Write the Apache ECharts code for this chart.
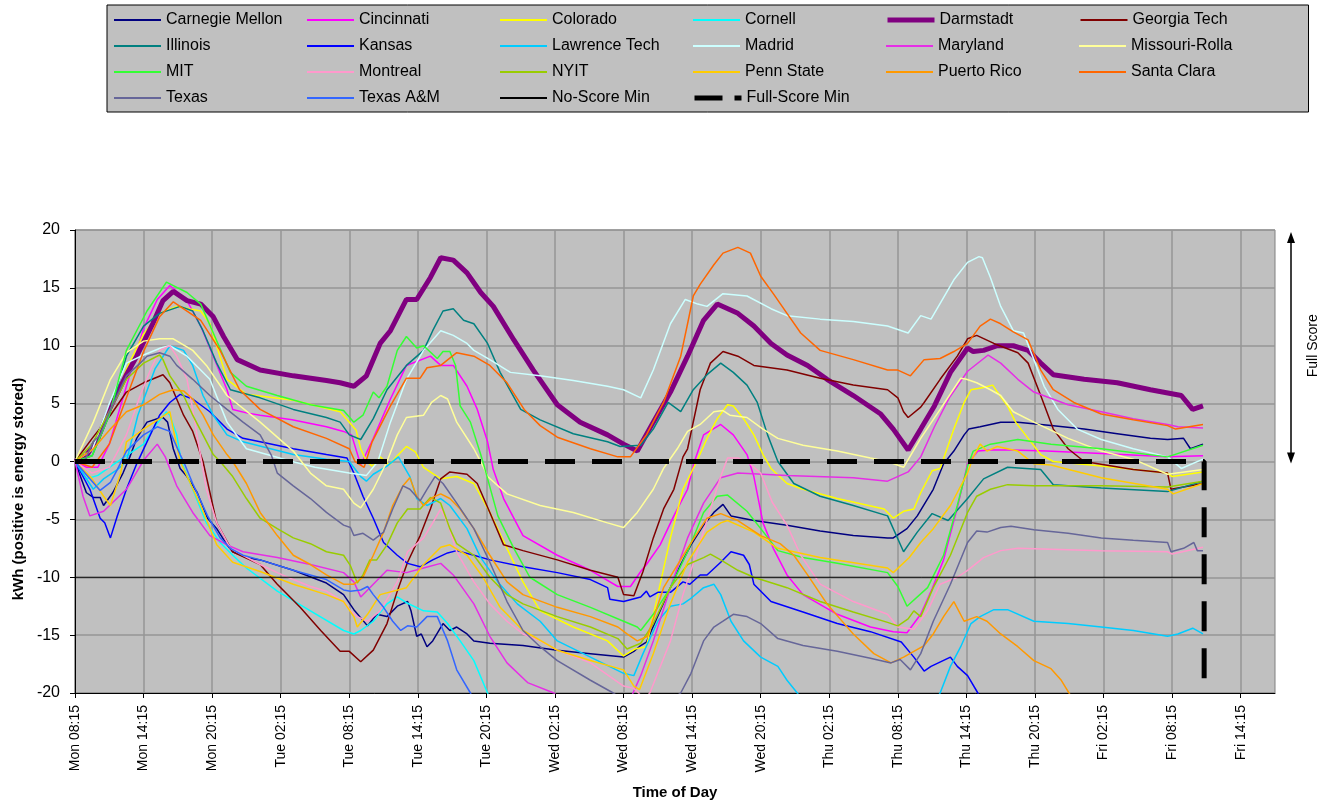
<!DOCTYPE html>
<html>
<head>
<meta charset="utf-8">
<script src="https://cdn.jsdelivr.net/npm/echarts@6/dist/echarts.min.js"></script>
<style>html,body{margin:0;padding:0;background:#fff;}#c{width:1335px;height:805px;}</style>
</head>
<body>
<div id="c"></div>
<script>
// x values are hours after Mon 08:15, y values are kWh
const tickLabels = ['Mon 08:15','Mon 14:15','Mon 20:15','Tue 02:15','Tue 08:15','Tue 14:15','Tue 20:15','Wed 02:15','Wed 08:15','Wed 14:15','Wed 20:15','Thu 02:15','Thu 08:15','Thu 14:15','Thu 20:15','Fri 02:15','Fri 08:15','Fri 14:15'];

const carnegieMellon = [[0,0],[1,-2.7],[1.6,-3.1],[2.2,-3.1],[2.5,-3.8],[3.3,-2.7],[4.2,-1.0],[4.8,0.4],[5.4,2.0],[6.3,3.4],[7.2,3.7],[7.7,3.8],[8.1,3.4],[8.6,1.1],[9.2,-0.6],[9.8,-1.3],[10.7,-2.7],[11.6,-4.9],[12.4,-5.8],[13.3,-7.2],[13.8,-7.8],[15,-8.3],[16.2,-8.5],[19.1,-9.4],[22,-10.5],[23.5,-11.5],[24.4,-12.8],[25.6,-14.2],[26.4,-13.2],[27.3,-13.4],[28.2,-12.5],[29.1,-12.1],[29.4,-12.9],[29.9,-15.1],[30.3,-14.9],[30.8,-16.0],[31.3,-15.5],[32.2,-14.0],[32.8,-14.6],[33.4,-14.3],[34.3,-14.9],[34.9,-15.5],[36.3,-15.7],[39.2,-15.9],[42.2,-16.3],[45.1,-16.6],[48,-16.9],[48.9,-16.4],[49.5,-15.9],[50,-15.6],[51.2,-12.9],[52.1,-10.9],[53,-8.9],[53.9,-7.2],[55,-5.5],[55.9,-4.4],[56.7,-3.7],[57.4,-4.7],[59.4,-5.1],[62.3,-5.5],[65.2,-6.0],[68.1,-6.4],[71.1,-6.6],[71.6,-6.6],[72.8,-5.8],[73.7,-4.7],[75.1,-2.4],[76,-0.2],[76.9,0.9],[77.8,2.3],[78.2,2.8],[79.2,3.0],[81,3.4],[82.5,3.4],[85.4,3.1],[88.3,2.8],[91.2,2.4],[94.1,2.0],[95.6,1.9],[97,2.0],[97.6,1.1],[98.7,1.5]];
const cincinnati = [[0,0],[1,-0.5],[2,-0.5],[3,1.5],[4.5,6.5],[6,11.5],[7.2,14],[8.3,15.2],[9.8,13.9],[11,11.7],[12.1,9.1],[13.3,6.2],[13.8,4.5],[15,4.2],[16.2,4.0],[19,3.6],[22,3.0],[23.5,2.6],[24.2,2.3],[25,-0.3],[26.1,2.0],[27.6,5.4],[29,8.3],[31.1,9.1],[32,8.3],[33.1,8.3],[34.3,6.5],[35.2,4.5],[36.1,1.7],[36.6,-0.7],[37.5,-3.2],[39.2,-6.4],[42.2,-8.1],[45.1,-9.4],[47.5,-10.8],[48.6,-10.8],[49.5,-9.5],[50,-8.9],[51.2,-7.2],[52.4,-4.7],[53.6,-2.4],[54.2,0],[55,2.3],[56.5,3.2],[57.6,2.3],[58.8,0.6],[59.4,-1.3],[60.2,-5.3],[61.1,-7.5],[62.3,-9.8],[63.7,-11.5],[66.7,-13.2],[69.6,-14.3],[71.6,-14.7],[72.8,-14.8],[74,-13.2],[75,-11],[76,-8.5],[77.2,-4],[78.1,-0.2],[79,0.9],[80.1,1.0],[82,1.0],[85,0.9],[89.8,0.7],[95.6,0.4],[98.7,0.5]];
const colorado = [[0,0],[1.5,1],[3,4],[4.5,8],[6,11],[7.4,12.8],[8.9,13.4],[11,13.0],[11.8,11.9],[13.3,7.1],[15,5.8],[19.1,5.3],[23.2,4.3],[24,3.4],[24.6,2.7],[25,1.1],[25.5,0],[26,-0.4],[26.7,0.4],[27.5,-0.3],[28.2,0.5],[29,1.3],[29.8,0.8],[30.5,-0.5],[32,-1.5],[33.4,-1.3],[34.9,-1.9],[36.3,-4.4],[37.8,-7.5],[39.2,-10.4],[40.7,-12.9],[43.6,-14.3],[46.6,-15.5],[48,-16.8],[49,-16.2],[50,-16],[51,-11.5],[52.1,-6.6],[53.2,-2.4],[54.4,0],[55.3,2.0],[56.2,3.7],[57.1,4.9],[57.6,4.8],[58.5,3.7],[59.4,2.3],[60.2,0.6],[60.9,-0.6],[62.3,-1.9],[63.7,-2.4],[66.7,-3.2],[70.8,-4.1],[71.6,-4.9],[72.5,-4.3],[73.4,-4.1],[74,-2.7],[75,-0.8],[75.7,-0.6],[76.9,2.8],[77.8,5.1],[78.4,6.2],[79.5,6.4],[80.3,6.6],[80.7,6.0],[81.6,4.8],[82.3,3.4],[83.4,2.0],[84.5,0.6],[85.6,0],[90,-0.4],[95.6,-1.0],[96,-1.3],[98.7,-0.9]];
const cornell = [[0,0],[1,-1.5],[2,-1.2],[3,-0.5],[4.5,0.5],[6,1.5],[6.8,2.8],[8,4.3],[8.3,4.0],[8.9,2.3],[9.3,0],[10.3,-2.4],[11.5,-5.3],[12.7,-7.0],[13.8,-8.1],[15,-9.2],[17.7,-11.2],[20.6,-12.9],[23.5,-14.6],[24.4,-14.9],[25,-14.6],[26.1,-13.8],[27.3,-12.3],[28.2,-11.7],[29,-12.2],[30.5,-12.9],[31.7,-13.0],[32.6,-14.0],[33.7,-15.5],[34.9,-17.2],[36.1,-20],[37,-22]];
const darmstadt = [[0,0],[1,0.5],[2,2],[3,4.5],[4.5,7.5],[5.4,9.1],[6.8,11.9],[7.7,13.9],[8.6,14.7],[9.8,13.9],[11,13.6],[12.1,12.5],[13,10.8],[14.2,8.8],[16.2,7.9],[19.1,7.4],[22,7.0],[23.2,6.8],[24.4,6.5],[25.5,7.4],[26.7,10.2],[27.6,11.3],[29,14.0],[29.9,14.0],[31.1,15.9],[32,17.6],[33.1,17.4],[34.3,16.3],[35.5,14.6],[36.6,13.4],[38.4,10.5],[40.1,7.9],[42.2,4.9],[44.2,3.4],[46.6,2.3],[48,1.5],[49.2,0.9],[50.6,3.4],[52.1,6.0],[53.6,9.1],[55,12.2],[56.2,13.6],[58,12.8],[59.4,11.7],[60.9,10.2],[62.3,9.2],[64.1,8.3],[65.8,7.1],[68.1,5.7],[70.5,4.1],[71.6,2.8],[72.9,1.0],[74,2.8],[75.2,4.8],[76.6,7.7],[78.1,9.8],[78.6,9.5],[79.5,9.6],[80.7,10.0],[82.1,10.0],[83.4,9.6],[84.5,8.5],[85.6,7.5],[88.3,7.1],[91.2,6.8],[94.1,6.2],[96.8,5.7],[97.8,4.5],[98.7,4.8]];
const georgiaTech = [[0,0],[1.5,2],[3.1,4.0],[4.5,6.0],[6,6.8],[7.7,7.5],[8.3,6.8],[9.5,4.0],[10.3,2.6],[11.2,0],[12.4,-5.3],[13.8,-7.8],[16.2,-8.9],[17.7,-10.6],[19.7,-12.6],[21.5,-14.6],[23.2,-16.4],[24,-16.4],[25,-17.3],[26.1,-16.3],[27.3,-14.0],[28.2,-11.2],[29.1,-8.7],[30.2,-6.4],[31.1,-4.1],[32,-1.5],[32.8,-0.9],[34.3,-1.1],[35.2,-1.9],[36.3,-4.4],[37.5,-7.2],[39.2,-7.7],[42.2,-8.5],[45.1,-9.4],[47.5,-10.0],[48,-11.5],[48.9,-11.6],[49.7,-9.5],[50.6,-6.6],[51.5,-4.1],[52.4,-2.4],[53.2,0.4],[53.6,1.1],[54.7,6.2],[55.6,8.5],[56.7,9.5],[58,9.1],[59.4,8.3],[62.3,7.9],[65.2,7.2],[68.1,6.6],[71.1,6.2],[72,5.5],[72.5,4.3],[72.9,3.8],[74,4.7],[74.3,5.1],[75.7,7.1],[77.2,9.1],[78.1,10.6],[78.9,10.9],[80.4,10.2],[82.5,9.4],[83.4,8.5],[84.5,5.7],[85.6,2.8],[86.9,1.1],[88.3,0],[92.6,-0.7],[95.6,-1.0],[95.9,-2.4],[98.7,-1.9]];
const illinois = [[0,0],[1.5,0.5],[3,4],[4.5,9.1],[6,11.7],[7.4,12.8],[9.2,13.4],[10.3,13.0],[11.2,11.3],[12.4,8.5],[13.6,6.2],[16.2,5.5],[19.1,4.5],[22,3.8],[23.2,3.4],[24,2.3],[25,1.9],[26.1,3.7],[27.3,6.2],[29,8.3],[30.5,9.6],[31.3,11.3],[32.2,13.0],[33.1,13.2],[34,12.2],[34.9,11.9],[36.1,10.2],[37.2,7.7],[39,4.5],[40.7,3.6],[43.6,2.4],[46.6,1.7],[47.7,1.3],[49.5,1.4],[50.6,2.8],[51.9,5.1],[53,4.3],[54.1,6.2],[55.3,7.5],[56.5,8.5],[57.6,7.7],[58.8,6.6],[59.7,5.1],[60.6,2.3],[61.5,0],[62.9,-1.9],[65.2,-3.0],[68.1,-3.8],[71.1,-4.7],[72.5,-7.8],[73.7,-6.1],[75,-4.5],[76.4,-5.1],[78.1,-3.2],[79.5,-1.5],[81.6,-0.5],[84.5,-0.7],[85.6,-2.0],[89.8,-2.3],[95.6,-2.6],[98.7,-1.7]];
const kansas = [[0,0],[1.3,-2.4],[2.2,-4.9],[2.6,-5.3],[3.1,-6.6],[3.7,-4.7],[4.5,-2.4],[5.4,-0.2],[6.3,1.7],[7.4,4.0],[8.3,5.1],[9.2,5.8],[10.3,5.4],[11.8,4.3],[13.3,2.8],[14.7,2.0],[16.2,1.7],[19.1,1.1],[22,0.6],[23.8,0.3],[24.4,-1.0],[25.2,-3.0],[26.1,-4.9],[27,-7.0],[28.2,-8.1],[29.1,-8.8],[30.2,-9.1],[31.3,-8.5],[32.6,-7.9],[33.4,-7.7],[34.9,-8.1],[36.3,-8.5],[39.2,-9.1],[42.2,-9.6],[45.1,-10.2],[46.6,-10.9],[46.8,-11.9],[48,-12.1],[49.5,-11.7],[50,-11.2],[50.3,-11.7],[51,-11.3],[52.1,-11.3],[53.2,-10.4],[53.8,-10.6],[54.7,-9.8],[55.3,-9.8],[56.5,-8.7],[57.4,-7.8],[58.5,-8.1],[59,-8.9],[59.4,-10.6],[60.9,-12.1],[63.7,-13.0],[66.7,-14.0],[69.6,-14.7],[72.3,-15.6],[73.4,-16.9],[74.3,-18.1],[74.9,-17.7],[76.6,-16.9],[77.2,-17.7],[78.1,-18.5],[79,-20],[80,-22]];
const lawrenceTech = [[0,0],[1.6,-2.4],[2.5,-1.5],[3.7,-0.7],[4.5,0],[5.5,4],[7,8],[8.3,10.0],[9.5,9.6],[10.3,8.3],[11.2,5.7],[12.1,4.0],[13.3,2.3],[14.7,1.7],[19.1,0.6],[22,0.2],[24,0],[25,-1.3],[25.5,-1.7],[26.1,-1.1],[27.3,-0.4],[28.3,0.4],[29.3,-1.3],[29.9,-3.2],[30.8,-3.8],[32,-3.2],[32.8,-3.8],[34.3,-5.8],[35.5,-8.3],[37,-10.4],[38.7,-12.3],[40.7,-13.8],[42.2,-15.5],[45.1,-16.9],[48,-18.3],[48.9,-18.5],[49.7,-16.6],[51,-13.8],[52.1,-12.5],[53.2,-12.3],[53.8,-11.9],[55,-10.9],[55.9,-10.6],[56.5,-11.5],[57.4,-13.8],[58.5,-15.5],[60,-16.9],[61.5,-17.7],[62.3,-18.9],[63.2,-20],[66,-24],[73,-24],[75.7,-20],[76.6,-17.7],[77.5,-16.0],[78.4,-14.0],[79.2,-13.4],[80.4,-12.8],[81.6,-12.8],[83.9,-13.8],[86.9,-14.0],[89.8,-14.3],[92.6,-14.6],[95.6,-15.1],[96.5,-14.9],[97.8,-14.4],[98.7,-14.9]];
const madrid = [[0,0],[1.5,1],[3,5],[4.5,8.5],[6,9.2],[7.5,9.8],[8.3,10.0],[9.8,9.1],[11.8,7.1],[13.3,3.4],[15,1.1],[19,0],[21,-0.5],[24,-1.0],[25.5,-1.2],[26.5,0],[27.6,3.4],[29,7.1],[30.5,9.6],[32,11.3],[33.1,10.9],[34.3,10.2],[34.9,9.6],[36.3,8.8],[38.1,7.7],[40.7,7.4],[43.6,7.0],[46.6,6.5],[48,6.2],[49.5,5.5],[50.6,7.9],[52.1,11.9],[53.4,14.0],[54.5,13.6],[55.3,13.4],[56.7,14.5],[58.8,14.3],[60.9,13.2],[62.3,12.6],[65.2,12.3],[68.1,12.1],[71.1,11.7],[72.9,11.1],[74,12.6],[74.9,12.3],[76.9,15.7],[78.1,17.2],[79.1,17.7],[79.4,17.6],[80.1,15.9],[81,13.4],[82.1,11.3],[83,11.1],[83.9,8.8],[84.8,6.5],[86,4.5],[87.7,2.8],[89.8,1.9],[92.6,1.1],[95.6,0.4],[96.8,-0.6],[98.7,0.2]];
const maryland = [[0,0],[0.7,-3],[1.3,-4.7],[2.5,-4.3],[4.5,-2.4],[6,0.1],[7.2,1.5],[7.9,0.4],[8.9,-2.1],[10.3,-4.4],[11.8,-6.4],[13.3,-7.2],[14.7,-7.8],[17.7,-8.3],[20.6,-8.9],[23.5,-9.6],[24.4,-10.4],[25,-11.7],[26.1,-10.6],[27.3,-9.4],[29,-9.6],[30.5,-9.2],[32,-8.8],[33.1,-9.8],[34.9,-12.3],[36.3,-15.1],[37.8,-17.4],[39.6,-19.1],[41.9,-20],[45,-22.5],[48.6,-20.5],[49.5,-18.5],[50.6,-15.5],[52.1,-10.9],[53.6,-6.6],[55,-3.6],[56.5,-1.4],[58,-1.0],[62.3,-1.2],[68.1,-1.4],[71.1,-1.7],[72.9,-0.9],[74,0.4],[75.2,3],[76.5,5.5],[78.1,7.8],[79.9,9.2],[81,8.5],[82.5,7.1],[83.9,6.0],[86.9,4.9],[89.8,4.3],[92.6,3.7],[95.6,3.2],[96.5,3.0],[98.7,2.9]];
const missouriRolla = [[0,0],[1.6,3.4],[3.1,7.1],[4.5,9.4],[6,10.4],[7.4,10.6],[8.6,10.6],[10.3,9.6],[11.5,8.3],[13.3,5.7],[16.2,3.4],[19.1,0.9],[20.6,-1.0],[22,-2.1],[23.5,-2.4],[24.4,-3.6],[25,-4.0],[26.1,-2.4],[27.3,0],[28.2,2.3],[29,3.8],[30.5,4.0],[31.2,5.1],[32,5.7],[32.6,5.4],[33.4,3.4],[34.9,1.1],[35.8,-0.6],[36.1,-1.3],[37.8,-2.8],[40.7,-3.8],[43.6,-4.4],[46.6,-5.3],[48,-5.7],[49.2,-4.4],[50.6,-2.4],[51.5,-0.6],[52.7,1.1],[53.6,2.6],[54.7,3.2],[55.9,4.3],[56.7,4.4],[57.3,4.0],[58.8,3.8],[60.2,2.8],[61.5,2.0],[63.7,1.4],[66.7,0.9],[69.6,0.3],[71.1,0],[72.5,-0.5],[74,2.0],[75.7,4.5],[77.5,7.2],[78,7.1],[78.9,6.8],[80.1,6.2],[81,5.7],[82.1,4.3],[83.9,3.4],[86.9,2.0],[89.8,0.9],[92.6,0.2],[95.6,-1.1],[98.7,-0.7]];
const mit = [[0,0],[1.5,0.5],[3,4],[4.5,9.6],[6.3,13.0],[8,15.5],[9.8,14.6],[11,13.6],[12.1,11.1],[13.6,7.7],[15,6.5],[17.7,5.7],[20.6,4.9],[23.5,4.4],[24.4,3.4],[25.2,4.0],[26.1,6.0],[26.6,5.5],[27.3,6.5],[28.2,9.6],[29,10.8],[29.9,9.8],[30.5,10.0],[31.7,8.9],[32.2,9.5],[32.8,9.5],[33.3,8.3],[33.7,4.8],[34.6,3.4],[35.5,0.6],[35.8,-0.4],[37,-4.7],[38.4,-7.5],[39.8,-10.0],[42.2,-11.5],[45.1,-12.6],[48,-13.8],[49.2,-14.3],[49.5,-14.6],[50.6,-13.2],[52.1,-10.9],[53.6,-7.8],[55,-4.4],[56.2,-3.0],[57.1,-2.9],[58.8,-4.3],[60,-5.8],[61.5,-7.7],[63.7,-8.3],[66.7,-8.8],[71.1,-9.6],[72,-10.8],[72.8,-12.5],[74.6,-10.9],[76,-8.1],[77.2,-3.8],[78.1,-0.4],[78.6,0.9],[80.1,1.5],[82.5,1.9],[85.4,1.5],[89.8,1.1],[95.6,0.4],[98.7,1.4]];
const montreal = [[0,0],[1.5,-1],[3,-0.5],[4.5,2.3],[5.7,5.7],[6.6,7.9],[7.4,9.6],[8.3,10.0],[8.9,9.1],[9.8,7.1],[10.3,4.5],[10.9,1],[11.5,-2.4],[12.4,-5.3],[13.6,-7.5],[14.7,-8.1],[16.2,-8.9],[17.7,-9.6],[19.1,-10.2],[20.6,-10.8],[22,-11.2],[23.5,-12.1],[24.1,-12.9],[24.7,-13.4],[25.6,-13.8],[26.7,-12.9],[28.2,-10.4],[29.1,-7.8],[30.5,-6.6],[31.3,-5.3],[32,-4.1],[32.6,-5.3],[33.4,-7.8],[34.9,-10.4],[36.3,-12.3],[37.8,-13.8],[39.2,-14.9],[40.7,-15.5],[42.2,-16.3],[45.1,-17.4],[48,-19.4],[48.9,-19.6],[49.8,-20.5],[50.3,-20],[52.1,-15.5],[53.2,-11.5],[54.7,-7.0],[55.6,-4.1],[56.5,-1.3],[57.1,0.3],[58,0.3],[58.8,0],[60,-1],[61,-3.5],[62.3,-5.5],[63.5,-8.1],[65.2,-10.6],[68.1,-12.1],[71.1,-13.2],[72,-14.3],[73.4,-14.5],[74.6,-12.9],[75.7,-10.6],[77.2,-10.0],[78.1,-9.4],[79.5,-8.3],[81,-7.7],[82.5,-7.5],[89.8,-7.7],[95.6,-7.8],[96,-8.0],[98.7,-7.4]];
const nyit = [[0,0],[1.5,1.5],[3.1,4.5],[4.5,7.1],[6,8.5],[7.4,9.2],[7.7,8.8],[8.3,7.4],[9.5,5.7],[10.3,4.0],[11.2,2.3],[12.1,0.6],[12.7,0],[13.8,-1.3],[15,-3.2],[16.2,-4.9],[17.7,-5.8],[19.1,-6.6],[20.6,-7.1],[22,-7.8],[23.5,-8.1],[24.1,-9.0],[24.7,-10.5],[25.2,-9.8],[25.8,-8.5],[26.4,-8.5],[27.3,-7.2],[28.2,-5.3],[29.1,-4.1],[30.2,-4.1],[31.1,-3.1],[32,-3.6],[32.8,-5.8],[33.4,-7.1],[34.9,-8.1],[36.3,-10.0],[37.8,-11.5],[39.2,-12.3],[42.2,-13.4],[45.1,-14.3],[47.5,-15.3],[48.3,-16.2],[49.5,-15.7],[50.6,-14.0],[52.1,-10.9],[53.6,-8.9],[55,-8.3],[55.6,-8.0],[56.5,-8.5],[58,-9.4],[59.4,-10.0],[62.3,-10.9],[65.2,-12.1],[68.1,-13.0],[71.1,-13.9],[72,-14.2],[72.9,-13.6],[73.4,-12.9],[74,-13.4],[75.1,-10.9],[76.6,-8.1],[78.1,-4.4],[78.9,-3.0],[80.1,-2.4],[81.6,-2.0],[83.9,-2.1],[89.8,-2.1],[95.6,-2.2],[98.7,-1.7]];
const pennState = [[0,0],[1.5,-1.5],[2.5,-3],[3.1,-3.8],[4,-1],[4.5,1.7],[6,2.8],[7.4,3.7],[8.3,4.3],[8.6,2.8],[9.2,0],[11,-3.8],[12.4,-7.2],[13.8,-8.7],[16.2,-9.5],[19.1,-10.6],[22,-11.5],[23.5,-12.1],[24.4,-13.4],[24.7,-14.3],[25.6,-13.2],[26.7,-11.5],[29,-10.9],[30.5,-8.9],[32,-7.4],[32.8,-7.2],[34.3,-8.1],[35.7,-10.0],[37.2,-12.6],[39.2,-14.6],[42.2,-16.3],[45.1,-17.2],[48,-18.0],[48.9,-19.4],[49.4,-19.7],[50.6,-16.6],[52.1,-12.3],[53.6,-8.7],[55.3,-6.1],[56.5,-5.3],[57.1,-5.1],[59.4,-6.1],[61.5,-7.5],[65.2,-8.3],[71.1,-9.2],[71.6,-9.6],[73,-8.3],[74,-7.0],[75.1,-5.8],[76.6,-3.8],[78.1,-1.0],[78.6,0.4],[79.2,1.5],[79.8,0.9],[80.7,1.3],[82.5,0.9],[83.9,-0.2],[85.4,-0.3],[89.8,-1.4],[95.6,-2.4],[96.1,-2.8],[98.7,-1.9]];
const puertoRico = [[0,0],[1.6,1.1],[3.1,2.8],[4.5,4.3],[6,4.9],[7.4,5.8],[8.6,6.2],[9.5,6.1],[10.3,5.4],[11.2,4.0],[12.1,2.3],[13.3,0.6],[13.8,0],[15,-1.9],[16.2,-4.4],[17.7,-6.4],[19.1,-8.1],[20.6,-8.9],[22,-9.8],[23.5,-10.6],[24.4,-10.6],[25.2,-10.0],[26.1,-8.1],[27,-6.1],[27.8,-3.8],[28.7,-2.1],[29.3,-1.4],[29.9,-3.0],[30.5,-3.8],[31.3,-3.1],[32,-2.8],[32.8,-3.2],[33.7,-4.1],[34.9,-5.8],[36.3,-8.1],[37.8,-10.4],[39.2,-11.5],[42.2,-12.6],[45.1,-13.4],[47.5,-14.3],[48.3,-14.9],[49.2,-15.5],[50.1,-15.1],[51.5,-10.9],[53.6,-7.5],[55.3,-4.9],[56.5,-4.5],[58,-5.1],[60,-6.4],[61.7,-7.1],[62.9,-8.1],[64.1,-9.8],[65.8,-12.3],[68.1,-14.9],[69.9,-16.6],[71.4,-17.4],[72.5,-16.9],[74.3,-15.9],[75.1,-14.9],[76,-13.4],[76.9,-12.1],[77.8,-13.8],[78.9,-13.4],[79.8,-13.8],[81,-14.9],[82.5,-16.0],[83.9,-17.2],[85.4,-17.9],[86.3,-18.9],[87.1,-20.2],[88,-21.5]];
const santaClara = [[0,0],[1.5,-0.5],[3,1.5],[4.5,5.5],[6,9.5],[7.4,12.5],[8.6,13.8],[11,12.2],[12.7,9.6],[14.4,6.2],[16.2,4.5],[19.1,3.0],[22,2.0],[24,1.1],[24.5,0],[25.3,-0.5],[26,1.7],[27.6,4.8],[29,7.2],[30.2,7.2],[30.8,8.1],[32,8.3],[33.4,9.4],[34.9,9.1],[36.3,8.3],[37.8,6.8],[39.3,4.5],[40.7,3.1],[42.2,2.1],[45.1,1.1],[47.5,0.4],[48.6,0.4],[50,2.3],[51.5,5.1],[53,9.1],[53.6,11.9],[54.1,14.3],[54.7,15.3],[55.9,17.0],[56.7,18.0],[58,18.5],[59.1,18.0],[60,16.0],[61.1,14.5],[62.3,12.8],[63.5,11.1],[65.2,9.6],[68.1,8.8],[71.1,7.9],[72,7.9],[73.1,7.4],[74.3,8.8],[75.7,8.9],[76.9,9.5],[78.1,10.2],[79.2,11.7],[80.1,12.3],[81,11.9],[82.1,11.2],[83.4,10.5],[84.5,7.9],[85.6,6.2],[87.4,5.1],[89.8,4.1],[92.6,3.6],[95.6,3.1],[96.3,2.8],[98.7,3.2]];
const texas = [[0,0],[0.8,0],[1.6,1.7],[2.2,2.3],[3.1,4.5],[4.5,7.4],[5.7,8.5],[6.3,9.1],[7.4,9.4],[8.3,9.1],[8.9,8.3],[10.3,7.1],[11.8,5.7],[13.3,4.5],[14.7,3.4],[16.2,2.3],[17.2,0.5],[17.7,-1.0],[19.1,-2.1],[20.6,-3.2],[22,-4.4],[23.5,-5.5],[24.1,-5.7],[24.4,-6.4],[25.2,-6.2],[26.1,-6.8],[27,-6.1],[27.8,-4.1],[28.7,-2.1],[29.3,-2.4],[30.2,-3.4],[30.8,-2.4],[31.5,-1.3],[32.2,-1.9],[33.4,-3.6],[34.9,-5.8],[36.3,-8.7],[37.8,-12.1],[39.2,-14.6],[40.7,-16.0],[42.2,-17.2],[45.1,-18.9],[47.1,-20],[50,-22],[53,-20],[53.9,-18.3],[55,-15.5],[55.9,-14.3],[56.7,-13.8],[57.6,-13.2],[58.8,-13.4],[60,-14.0],[61.5,-15.3],[63.7,-15.9],[66.7,-16.4],[69.6,-17.0],[71.4,-17.4],[72.2,-17.1],[73.1,-18.0],[74,-16.6],[75.1,-13.8],[76.6,-10.6],[78.1,-7.0],[78.9,-6.0],[79.8,-6.1],[81,-5.7],[81.9,-5.6],[83.9,-5.9],[86.9,-6.2],[89.8,-6.6],[92.6,-6.8],[95.6,-7.0],[95.9,-7.8],[97,-7.5],[97.9,-7.0],[98.2,-7.7],[98.7,-7.7]];
const texasAM = [[0,0],[1.3,-1.5],[2.2,-2.5],[3.1,-1.8],[3.7,-0.7],[4.5,0.9],[6,2.3],[7.2,3.0],[8.3,2.6],[9.2,0.6],[9.5,0],[10.3,-1.9],[11.6,-4.7],[12.7,-6.6],[13.6,-7.5],[14.7,-8.1],[16.2,-8.5],[19.1,-9.4],[22,-10.2],[23.5,-11.1],[24.1,-11.2],[25,-11.1],[25.6,-10.8],[26.1,-11.5],[27,-12.6],[27.8,-13.8],[28.5,-14.6],[29.1,-14.2],[29.9,-14.3],[30.8,-13.4],[31.7,-13.4],[32.6,-15.5],[33.4,-18.0],[34.6,-20],[35.5,-22]];
const noScoreMin = [[0,-10],[98.8,-10]];
const fullScoreMin = [[0,0],[98.8,0],[98.8,-20]];

const seriesNames = ['Carnegie Mellon','Cincinnati','Colorado','Cornell','Darmstadt','Georgia Tech','Illinois','Kansas','Lawrence Tech','Madrid','Maryland','Missouri-Rolla','MIT','Montreal','NYIT','Penn State','Puerto Rico','Santa Clara','Texas','Texas A&M','No-Score Min','Full-Score Min'];
const seriesData = [carnegieMellon,cincinnati,colorado,cornell,darmstadt,georgiaTech,illinois,kansas,lawrenceTech,madrid,maryland,missouriRolla,mit,montreal,nyit,pennState,puertoRico,santaClara,texas,texasAM,noScoreMin,fullScoreMin];
const seriesColors = ['#000080','#FF00FF','#FFFF00','#00FFFF','#800080','#800000','#008080','#0000FF','#00CCFF','#CCFFFF','#E62EE6','#FFFF99','#33FF33','#FF99CC','#99CC00','#FFCC00','#FF9900','#FF6600','#666699','#3366FF','#000000','#000000'];

const FONT = 'Liberation Sans, Arial, sans-serif';
const chart = echarts.init(document.getElementById('c'), null, {renderer: 'canvas'});

function styleFor(name) {
  if (name === 'Darmstadt') return {width: 5, type: 'solid'};
  if (name === 'No-Score Min') return {width: 1, type: 'solid'};
  if (name === 'Full-Score Min') return {width: 5, type: [30, 17]};
  return {width: 1.5, type: 'solid'};
}
function legendStyleFor(name) {
  if (name === 'Darmstadt') return {width: 5, type: 'solid'};
  if (name === 'Full-Score Min') return {width: 5, type: [28, 12]};
  return {width: 2, type: 'solid'};
}

const series = seriesNames.map((name, i) => {
  const s = styleFor(name);
  return {
    name, type: 'line', data: seriesData[i], showSymbol: false, symbol: 'none',
    clip: true, smooth: false,
    lineStyle: {color: seriesColors[i], width: s.width, type: s.type, cap: 'butt'},
    itemStyle: {color: seriesColors[i]},
    emphasis: {disabled: true}
  };
});

const tickValues = tickLabels.map((_, i) => i * 6);

chart.setOption({
  animation: false,
  backgroundColor: '#ffffff',
  textStyle: {fontFamily: FONT},
  legend: {
    left: 107, top: 5, width: 1190,
    padding: [2, 36, 1, 6],
    itemGap: 0, itemWidth: 47, itemHeight: 14,
    backgroundColor: '#c0c0c0', borderColor: '#000000', borderWidth: 1,
    itemStyle: {color: 'rgba(0,0,0,0)', borderColor: 'rgba(0,0,0,0)', borderWidth: 0, opacity: 0},
    textStyle: {fontFamily: FONT, fontSize: 16, color: '#000', width: 140, lineHeight: 26, overflow: 'truncate'},
    data: seriesNames.map((name, i) => {
      const ls = legendStyleFor(name);
      return {name, lineStyle: {color: seriesColors[i], width: ls.width, type: ls.type, cap: 'butt'}};
    })
  },
  grid: {left: 75, right: 60, top: 230, bottom: 105, show: true, backgroundColor: '#c0c0c0', borderColor: '#808080', borderWidth: 1},
  xAxis: {
    type: 'value', min: 0, max: 105, interval: 6,
    name: 'Time of Day', nameLocation: 'middle', nameGap: 92,
    nameTextStyle: {fontFamily: FONT, fontSize: 15, fontWeight: 'bold', color: '#000'},
    axisLine: {onZero: false, lineStyle: {color: '#000', width: 1}},
    axisTick: {show: true, inside: false, length: 5, customValues: tickValues, lineStyle: {color: '#000'}},
    splitLine: {show: true, lineStyle: {color: '#969696', width: 1.5}},
    axisLabel: {rotate: 90, margin: 12, fontFamily: FONT, fontSize: 14, color: '#000', customValues: tickValues,
      formatter: v => (v % 6 === 0 && tickLabels[v / 6] !== undefined) ? tickLabels[v / 6] : ''}
  },
  yAxis: {
    type: 'value', min: -20, max: 20, interval: 5,
    axisLine: {show: true, lineStyle: {color: '#000', width: 1}},
    axisTick: {show: true, inside: false, length: 5, lineStyle: {color: '#000'}},
    splitLine: {show: true, lineStyle: {color: '#969696', width: 1.5}},
    axisLabel: {margin: 15, fontFamily: FONT, fontSize: 16, color: '#000'}
  },
  series
});

// right-side "Full Score" arrow spanning 0..20 on the value axis, and y axis title
const ax = chart.convertToPixel({xAxisIndex: 0}, 105) + 16;
const yTop = chart.convertToPixel({yAxisIndex: 0}, 20) + 2;
const yBot = chart.convertToPixel({yAxisIndex: 0}, 0) + 2;
chart.setOption({
  graphic: [
    {type: 'line', shape: {x1: ax, y1: yTop + 8, x2: ax, y2: yBot - 8}, style: {stroke: '#000', lineWidth: 1.5}},
    {type: 'polygon', shape: {points: [[ax, yTop], [ax - 4, yTop + 11], [ax + 4, yTop + 11]]}, style: {fill: '#000'}},
    {type: 'polygon', shape: {points: [[ax, yBot], [ax - 4, yBot - 11], [ax + 4, yBot - 11]]}, style: {fill: '#000'}},
    {type: 'text', x: ax + 22, y: (yTop + yBot) / 2 - 2, rotation: Math.PI / 2,
      style: {text: 'Full Score', fontFamily: FONT, fontSize: 14, fill: '#000', align: 'center', verticalAlign: 'middle'}},
    {type: 'text', x: 19, y: 489, rotation: Math.PI / 2,
      style: {text: 'kWh (positive is energy stored)', fontFamily: FONT, fontSize: 15, fontWeight: 'bold', fill: '#000', align: 'center', verticalAlign: 'middle'}}
  ]
});
</script>
</body>
</html>
